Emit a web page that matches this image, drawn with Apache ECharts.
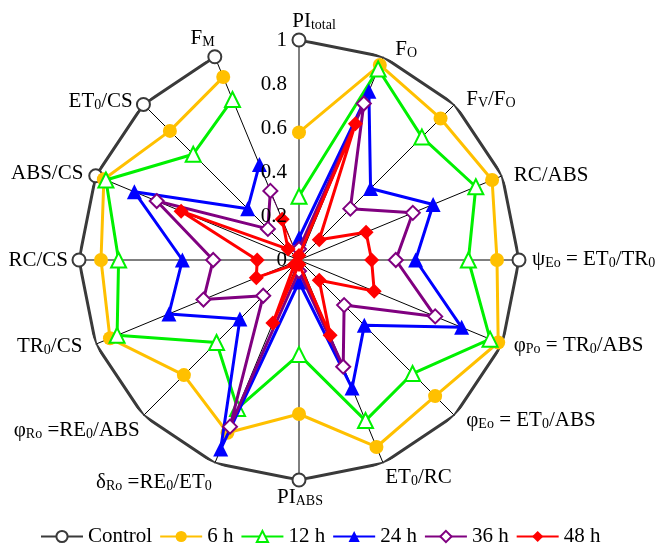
<!DOCTYPE html>
<html>
<head>
<meta charset="utf-8">
<script src="https://cdn.jsdelivr.net/npm/echarts@6/dist/echarts.min.js"></script>
<style>
  html, body { margin: 0; padding: 0; background: #fff; }
  #chart { width: 659px; height: 547px; }
</style>
</head>
<body>
<div id="chart"></div>
<script>
// Fluorescence parameters, clockwise from the top (rich-text markup for subscripts)
const categories = [
  'PI{s|total}', 'F{s|O}', 'F{s|V}/F{s|O}', 'RC/ABS',
  'ψ{s|Eo} = ET{s|0}/TR{s|0}', 'φ{s|Po} = TR{s|0}/ABS', 'φ{s|Eo} = ET{s|0}/ABS', 'ET{s|0}/RC',
  'PI{s|ABS}', 'δ{s|Ro} =RE{s|0}/ET{s|0}', 'φ{s|Ro} =RE{s|0}/ABS', 'TR{s|0}/CS',
  'RC/CS', 'ABS/CS', 'ET{s|0}/CS', 'F{s|M}'
];

const seriesNames = ['Control', '6 h', '12 h', '24 h', '36 h', '48 h'];

// Values relative to control
const control = [1, 1, 1, 1, 1, 1, 1, 1, 1, 1, 1, 1, 1, 1, 1, 1];
const h6  = [0.58, 0.96, 0.91, 0.95, 0.90, 0.98, 0.875, 0.92, 0.70, 0.85, 0.74, 0.93, 0.90, 0.96, 0.83, 0.90];
const h12 = [0.29, 0.94, 0.79, 0.87, 0.77, 0.94, 0.73, 0.79, 0.43, 0.73, 0.53, 0.895, 0.82, 0.95, 0.68, 0.79];
const h24 = [0.10, 0.83, 0.46, 0.66, 0.53, 0.80, 0.42, 0.63, 0.10, 0.93, 0.38, 0.64, 0.53, 0.81, 0.33, 0.47];
const h36 = [0.05, 0.77, 0.33, 0.56, 0.44, 0.67, 0.29, 0.525, 0.05, 0.82, 0.23, 0.47, 0.39, 0.70, 0.20, 0.34];
const h48 = [0.02, 0.67, 0.13, 0.33, 0.33, 0.37, 0.13, 0.37, 0.02, 0.31, 0.03, 0.21, 0.19, 0.58, 0.07, 0.20];

const radiusTicks = ['0', '0.2', '0.4', '0.6', '0.8', '1'];

// Per-label nudges [top, right, bottom, left] around the outer ring
const labelPadding = [
  [0, 0, 0, 30], [0, 0, -11, 9], [0, 0, -12, 6], [0, 0, -14, 4],
  [0, 0, 2, 5], [-13, 0, 0, 4], [-12, 0, 0, 6], [-4, 0, 0, -1],
  [-2, 0, 0, 2], [1, 0, 0, 0], [-2, -2, 0, 0], [-12, 6, 0, 0],
  [0, 3, 0, 0], [0, 5, -12, 0], [0, 5, -14, 0], [0, -3, 0, 0]
];

const FONT = '"Liberation Serif", "Times New Roman", serif';

const styles = [
  { color: '#3a3a3a', symbol: 'emptyCircle', size: 13 },
  { color: '#FFC000', symbol: 'circle', size: 14 },
  { color: '#00F000', symbol: 'emptyTriangle', size: 15 },
  { color: '#0000FF', symbol: 'triangle', size: 15 },
  { color: '#800080', symbol: 'emptyDiamond', size: 14 },
  { color: '#FF0000', symbol: 'diamond', size: 15 }
];

const datasets = [control, h6, h12, h24, h36, h48];

// close each polygon by returning to the first axis
function closedRing(vals) {
  const pts = vals.map((v, i) => [v, i]);
  pts.push({ value: [vals[0], vals.length], symbol: 'none' });
  return pts;
}

const chart = echarts.init(document.getElementById('chart'), null, { renderer: 'canvas' });

chart.setOption({
  animation: false,
  backgroundColor: '#fff',
  textStyle: { fontFamily: FONT },
  polar: { center: [299, 260], radius: 220 },
  angleAxis: {
    type: 'category',
    data: categories.map((c, i) => ({ value: c, textStyle: { padding: labelPadding[i] } })),
    boundaryGap: false,
    startAngle: 90,
    clockwise: true,
    axisLine: { show: false },
    axisTick: { show: false },
    splitLine: { show: true, lineStyle: { color: '#000', width: 1 } },
    splitArea: { show: false },
    axisLabel: {
      margin: 8,
      color: '#000',
      fontFamily: FONT,
      fontSize: 21,
      lineHeight: 22,
      rich: {
        s: { fontFamily: FONT, fontSize: 14, lineHeight: 10, verticalAlign: 'bottom', color: '#000' }
      }
    }
  },
  radiusAxis: {
    type: 'value',
    min: 0,
    max: 1,
    interval: 0.2,
    axisLine: { show: false },
    axisTick: { show: false },
    splitLine: { show: false },
    axisLabel: {
      margin: 12,
      color: '#000',
      fontFamily: FONT,
      fontSize: 21,
      formatter: v => radiusTicks[Math.round(v / 0.2)]
    },
    z: 20
  },
  legend: {
    data: seriesNames,
    left: 40,
    top: 526,
    padding: 0,
    itemWidth: 42,
    itemHeight: 14,
    itemGap: 7,
    textStyle: { fontFamily: FONT, fontSize: 21, color: '#000' }
  },
  series: seriesNames.map((name, k) => ({
    name: name,
    type: 'line',
    coordinateSystem: 'polar',
    data: closedRing(datasets[k]),
    symbol: styles[k].symbol,
    symbolSize: styles[k].size,
    showSymbol: true,
    showAllSymbol: true,
    lineStyle: { color: styles[k].color, width: 3 },
    itemStyle: { color: styles[k].color, borderWidth: 2 },
    z: 2 + k
  }))
});
</script>
</body>
</html>
